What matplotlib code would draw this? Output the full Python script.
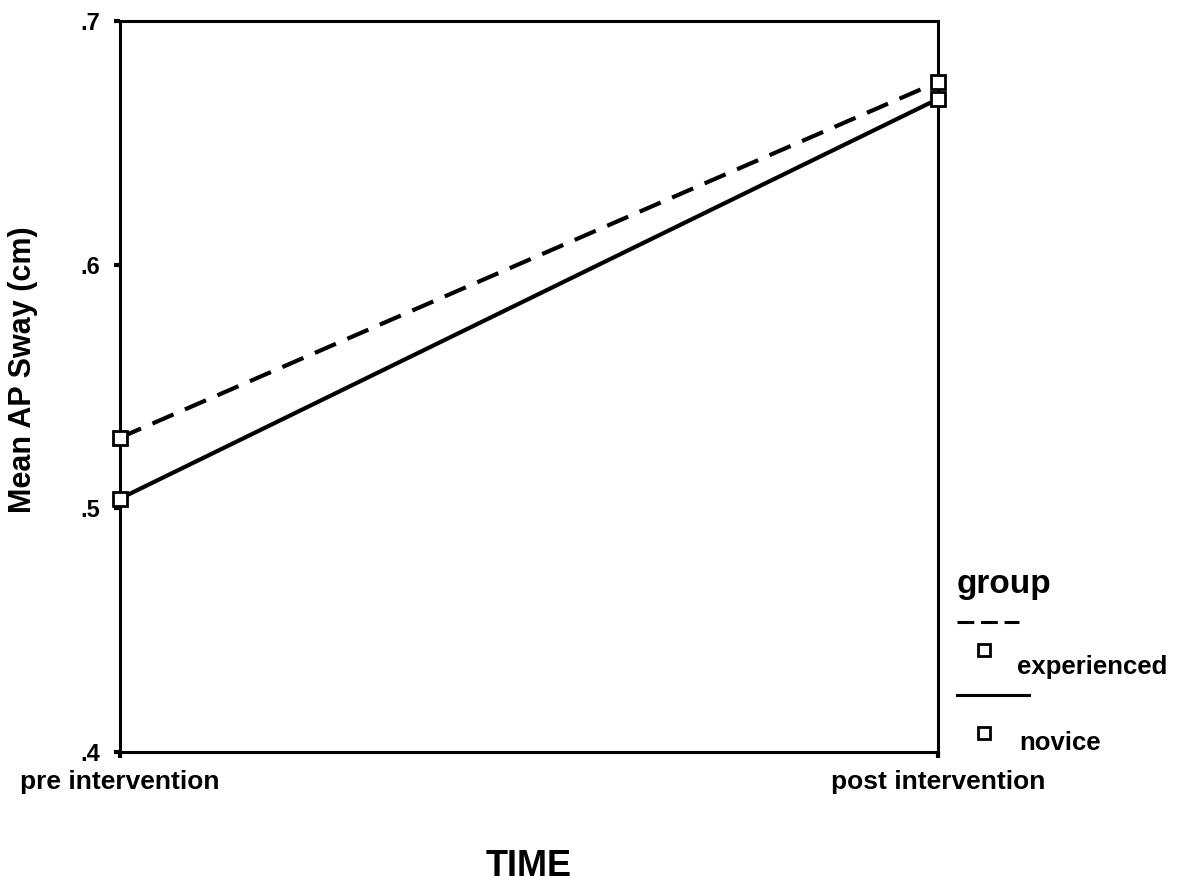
import matplotlib
matplotlib.use("Agg")
import matplotlib.pyplot as plt
from matplotlib.lines import Line2D

plt.rcParams['font.family'] = ['Liberation Sans', 'DejaVu Sans']
plt.rcParams['font.weight'] = 'bold'

time_labels = ["pre intervention", "post intervention"]
groups = ["experienced", "novice"]
experienced = [0.529, 0.675]
novice = [0.504, 0.668]
yticks = [0.4, 0.5, 0.6, 0.7]
ytick_labels = [".4", ".5", ".6", ".7"]

W, H = 1177, 885
fig = plt.figure(figsize=(W / 100, H / 100), dpi=100)
ax = fig.add_axes([120 / W, 1 - 752 / H, (938 - 120) / W, (752 - 21) / H])

x = list(range(len(time_labels)))
ax.plot(x, experienced, color='black', lw=3, linestyle=(0, (5.5, 3)),
        marker='s', markersize=10, markerfacecolor='white',
        markeredgecolor='black', markeredgewidth=2, clip_on=False, zorder=5)
ax.plot(x, novice, color='black', lw=3, linestyle='-',
        marker='s', markersize=10, markerfacecolor='white',
        markeredgecolor='black', markeredgewidth=2, clip_on=False, zorder=5)

ax.set_xlim(0, 1)
ax.set_ylim(0.4, 0.7)
ax.set_xticks(x)
ax.set_xticklabels(time_labels, fontsize=19, fontweight='bold')
ax.set_yticks(yticks)
ax.set_yticklabels(ytick_labels, fontsize=17, fontweight='bold')
ax.tick_params(axis='x', length=4, width=3, direction='out', pad=9)
ax.tick_params(axis='y', length=4, width=3, direction='out', pad=10)
for s in ax.spines.values():
    s.set_linewidth(2.2)

fig.text(23 / W, 1 - 370 / H, "Mean AP Sway (cm)", fontsize=22,
         fontweight='bold', rotation=90, ha='center', va='center')
fig.text(529 / W, 1 - 866 / H, "TIME", fontsize=26, fontweight='bold',
         ha='center', va='center')

# legend (custom layout)
fig.text(957 / W, 1 - 585 / H, "group", fontsize=24, fontweight='bold',
         ha='left', va='center')
fig.add_artist(Line2D([957 / W, 1019 / W], [1 - 622 / H, 1 - 622 / H],
                      color='black', lw=2.2, linestyle=(0, (5.5, 2.2)),
                      transform=fig.transFigure))
fig.add_artist(Line2D([984 / W], [1 - 650 / H], marker='s', markersize=8,
                      markerfacecolor='white', markeredgecolor='black',
                      markeredgewidth=2, linestyle='none',
                      transform=fig.transFigure))
fig.text(1017 / W, 1 - 667 / H, groups[0], fontsize=18.5, fontweight='bold',
         ha='left', va='center')
fig.add_artist(Line2D([957 / W, 1029 / W], [1 - 695 / H, 1 - 695 / H],
                      color='black', lw=2.2, transform=fig.transFigure))
fig.add_artist(Line2D([984 / W], [1 - 733 / H], marker='s', markersize=8,
                      markerfacecolor='white', markeredgecolor='black',
                      markeredgewidth=2, linestyle='none',
                      transform=fig.transFigure))
fig.text(1019 / W, 1 - 743 / H, groups[1], fontsize=18.5, fontweight='bold',
         ha='left', va='center')

fig.savefig("out.png", dpi=100)
